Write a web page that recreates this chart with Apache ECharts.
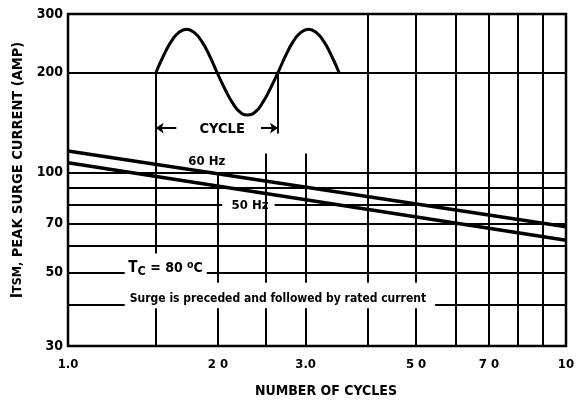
<!DOCTYPE html>
<html>
<head>
<meta charset="utf-8">
<script src="https://cdn.jsdelivr.net/npm/echarts@6/dist/echarts.min.js"></script>
<style>
  html, body { margin: 0; padding: 0; background: #fff; }
  #chart { width: 582px; height: 405px; }
</style>
</head>
<body>
<div id="chart"></div>
<script>
var xTicks = [1, 2, 3, 5, 7, 10];
var xTickLabels = ['1.0', '2 0', '3.0', '5 0', '7 0', '10'];
var yTicks = [30, 50, 70, 100, 200, 300];

// surge current vs number of cycles (straight on log-log)
var cycles = [1, 10];
var hz60 = [116, 68.6];
var hz50 = [107, 62.5];

// little waveform sketch at the top
var waveX = [1.502, 1.556, 1.612, 1.670, 1.730, 1.792, 1.856, 1.923, 1.992, 2.063, 2.137, 2.214, 2.293,
  2.376, 2.461, 2.549, 2.641, 2.736, 2.834, 2.935, 3.041, 3.150, 3.263, 3.380, 3.501];
var waveY = [200, 225, 248, 264, 270, 264, 248, 225, 200, 179, 162.5, 152, 149,
  152, 162.5, 179, 200, 225, 248, 264, 270, 264, 248, 225, 200];

// grid segments: [value, from, to]
var hGrid = [[200, 1, 10], [100, 1, 10], [90, 1, 10], [80, 1, 2.04], [80, 2.6, 10],
  [70, 1, 10], [60, 1, 10], [50, 1, 1.3], [50, 1.9, 10], [40, 1, 1.3], [40, 5.46, 10]];
var vGrid = [[1.5, 200, 57], [1.5, 39, 30], [2, 100, 46.5], [2, 39, 30],
  [2.5, 114, 46.5], [2.5, 39, 30], [3, 114, 46.5], [3, 39, 30],
  [4, 300, 46.5], [4, 39, 30], [5, 300, 46.5], [5, 39, 30],
  [6, 300, 30], [7, 300, 30], [8, 300, 30], [9, 300, 30], [2.64, 200, 131]];

var font = 'DejaVu Sans Condensed';
var chart = echarts.init(document.getElementById('chart'));

var gridLines = [];
hGrid.forEach(function (g) {
  gridLines.push([{ coord: [g[1], g[0]] }, { coord: [g[2], g[0]] }]);
});
vGrid.forEach(function (g) {
  gridLines.push([{ coord: [g[0], g[1]] }, { coord: [g[0], g[2]] }]);
});
// cycle arrows
gridLines.push([{ coord: [1.65, 136], symbol: 'none' }, { coord: [1.5, 136], symbol: 'arrow' }]);
gridLines.push([{ coord: [2.44, 136], symbol: 'none' }, { coord: [2.64, 136], symbol: 'arrow' }]);

function note(x, y, text, style) {
  return {
    coord: [x, y],
    symbol: 'circle',
    symbolSize: 0,
    label: Object.assign({
      show: true,
      position: 'inside',
      formatter: text,
      color: '#000',
      fontFamily: font,
      fontWeight: 'bold',
      fontSize: 13
    }, style || {})
  };
}

chart.setOption({
  backgroundColor: '#fff',
  animation: false,
  grid: {
    left: 68, right: 16, top: 14, bottom: 59,
    show: true, borderColor: '#000', borderWidth: 2.5
  },
  xAxis: {
    type: 'log', logBase: 10, min: 1, max: 10,
    name: 'NUMBER OF CYCLES',
    nameLocation: 'middle',
    nameGap: 38,
    nameTextStyle: { color: '#000', fontFamily: font, fontWeight: 'bold', fontSize: 14, padding: [0, 0, 0, 18] },
    axisLine: { show: false },
    axisTick: { show: false },
    splitLine: { show: false },
    minorSplitLine: { show: false },
    axisLabel: {
      customValues: xTicks,
      margin: 12,
      color: '#000', fontFamily: font, fontWeight: 'bold', fontSize: 13,
      formatter: function (v) {
        var i = xTicks.indexOf(Math.round(v * 1000) / 1000);
        return i >= 0 ? xTickLabels[i] : '';
      }
    }
  },
  yAxis: {
    type: 'log', logBase: 10, min: 30, max: 300,
    name: '{i|I}{s|TSM,} PEAK SURGE CURRENT (AMP)',
    nameLocation: 'middle',
    nameRotate: 90,
    nameGap: 40,
    nameTextStyle: {
      color: '#000', fontFamily: font, fontWeight: 'bold', fontSize: 14.5,
      padding: [0, 0, 0, 20],
      rich: {
        i: { fontFamily: font, fontWeight: 'bold', fontSize: 16, color: '#000' },
        s: { fontFamily: font, fontWeight: 'bold', fontSize: 12.5, color: '#000' }
      }
    },
    axisLine: { show: false },
    axisTick: { show: false },
    splitLine: { show: false },
    minorSplitLine: { show: false },
    axisLabel: {
      customValues: yTicks,
      margin: 5,
      color: '#000', fontFamily: font, fontWeight: 'bold', fontSize: 14,
      formatter: function (v) { return String(Math.round(v)); }
    }
  },
  series: [
    {
      name: 'grid',
      type: 'line',
      data: [],
      silent: true,
      z: 1,
      markLine: {
        silent: true,
        symbol: ['none', 'none'],
        symbolSize: 8,
        label: { show: false },
        lineStyle: { color: '#000', width: 2, type: 'solid' },
        emphasis: { disabled: true },
        data: gridLines
      },
      markPoint: {
        silent: true,
        data: [
          note(2.04, 135, 'CYCLE', { fontSize: 14.5 }),
          note(1.90, 108, '60 Hz'),
          note(2.32, 79.5, '50 Hz'),
          note(1.57, 51.5, '{t|T}{c|C}{r| = 80 }{o|o}{c2|C}', {
            rich: {
              t: { fontFamily: font, fontWeight: 'bold', fontSize: 15, color: '#000' },
              c: { fontFamily: font, fontWeight: 'bold', fontSize: 12.5, color: '#000', padding: [8, 0, 0, 0] },
              r: { fontFamily: font, fontWeight: 'bold', fontSize: 14, color: '#000' },
              o: { fontFamily: font, fontWeight: 'bold', fontSize: 10.5, color: '#000', padding: [0, 0, 6, 0] },
              c2: { fontFamily: font, fontWeight: 'bold', fontSize: 14, color: '#000' }
            }
          }),
          note(2.64, 41.6, 'Surge is preceded and followed by rated current', { fontSize: 12 })
        ]
      }
    },
    {
      name: 'wave',
      type: 'line',
      smooth: true,
      symbol: 'none',
      z: 3,
      lineStyle: { color: '#000', width: 3 },
      data: waveX.map(function (x, i) { return [x, waveY[i]]; })
    },
    {
      name: '60 Hz',
      type: 'line',
      symbol: 'none',
      z: 3,
      lineStyle: { color: '#000', width: 3.5 },
      data: cycles.map(function (x, i) { return [x, hz60[i]]; })
    },
    {
      name: '50 Hz',
      type: 'line',
      symbol: 'none',
      z: 3,
      lineStyle: { color: '#000', width: 3.5 },
      data: cycles.map(function (x, i) { return [x, hz50[i]]; })
    }
  ]
});
</script>
</body>
</html>
